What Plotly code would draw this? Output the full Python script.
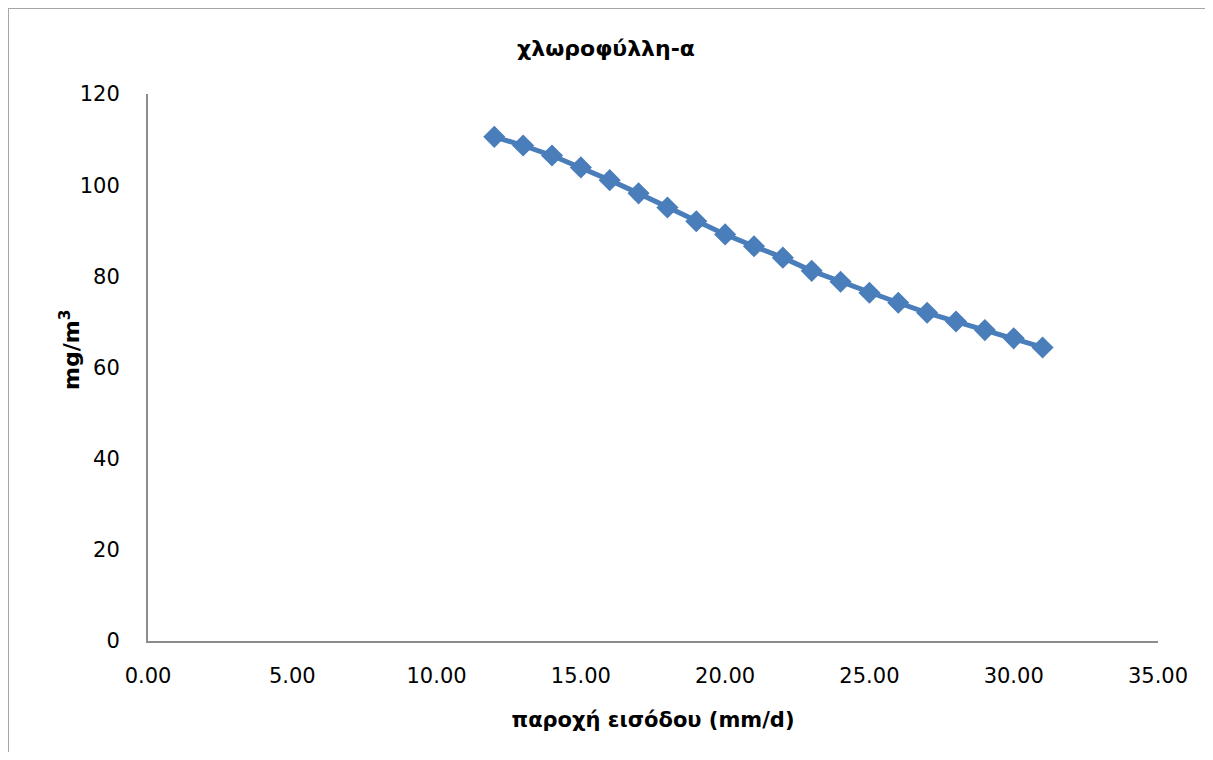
import plotly.graph_objects as go

flow = [12, 13, 14, 15, 16, 17, 18, 19, 20, 21, 22, 23, 24, 25, 26, 27, 28, 29, 30, 31]
chl = [110.6, 108.7, 106.5, 103.9, 101.1, 98.2, 95.1, 92.1, 89.2, 86.6,
       84.1, 81.2, 78.8, 76.4, 74.2, 72.0, 70.1, 68.2, 66.4, 64.4]
x_ticks = [0, 5, 10, 15, 20, 25, 30, 35]
y_ticks = [0, 20, 40, 60, 80, 100, 120]

FONT = "'DejaVu Sans', sans-serif"
BLUE = "#4a7ebb"
AXIS = "#8c8c8c"

# page body has an 8px offset; figure is sized/margined to compensate
W, H = 1197, 744
L, T, PW, PH = 140, 86, 1010, 547

fig = go.Figure()
fig.add_trace(go.Scatter(
    x=flow, y=chl, mode="lines+markers",
    line=dict(color=BLUE, width=5),
    marker=dict(symbol="diamond", size=17, color=BLUE),
    showlegend=False,
))

fig.update_layout(
    width=W, height=H,
    margin=dict(l=L, r=W - L - PW, t=T, b=H - T - PH),
    paper_bgcolor="white", plot_bgcolor="white",
    font=dict(family=FONT, color="#000000", size=20),
    title=dict(text="<b>χλωροφύλλη-α</b>", x=(606 - 8) / W, xref="container",
               xanchor="center",
               y=1 - 40 / H, yanchor="middle", font=dict(size=22, family=FONT)),
    xaxis=dict(range=[0, 35], tickvals=x_ticks, tickformat=".2f",
               showgrid=False, zeroline=False, showline=True, linecolor=AXIS, linewidth=2,
               ticks="", ticklabelstandoff=15, tickfont=dict(size=21),
               title=dict(text="<b>παροχή εισόδου (mm/d)</b>", standoff=25, font=dict(size=21))),
    yaxis=dict(range=[0, 120], tickvals=y_ticks,
               showgrid=False, zeroline=False, showline=True, linecolor=AXIS, linewidth=2,
               ticks="", ticklabelstandoff=22, tickfont=dict(size=21)),
    annotations=[dict(text="<b>mg/m<sup>3</sup></b>", xref="paper", yref="paper",
                      x=-78 / PW, y=(T + PH - (350 - 8)) / PH, textangle=-90,
                      showarrow=False, xanchor="center", yanchor="middle",
                      font=dict(size=22, family=FONT))],
    shapes=[dict(type="rect", xref="paper", yref="paper",
                 x0=-(L - 0) / PW, x1=(W + 60 - L) / PW,
                 y0=-0.3, y1=(T + PH - 0) / PH,
                 line=dict(color="#a6a6a6", width=2), fillcolor="rgba(0,0,0,0)",
                 layer="below")],
)

fig.write_html("out.html")
